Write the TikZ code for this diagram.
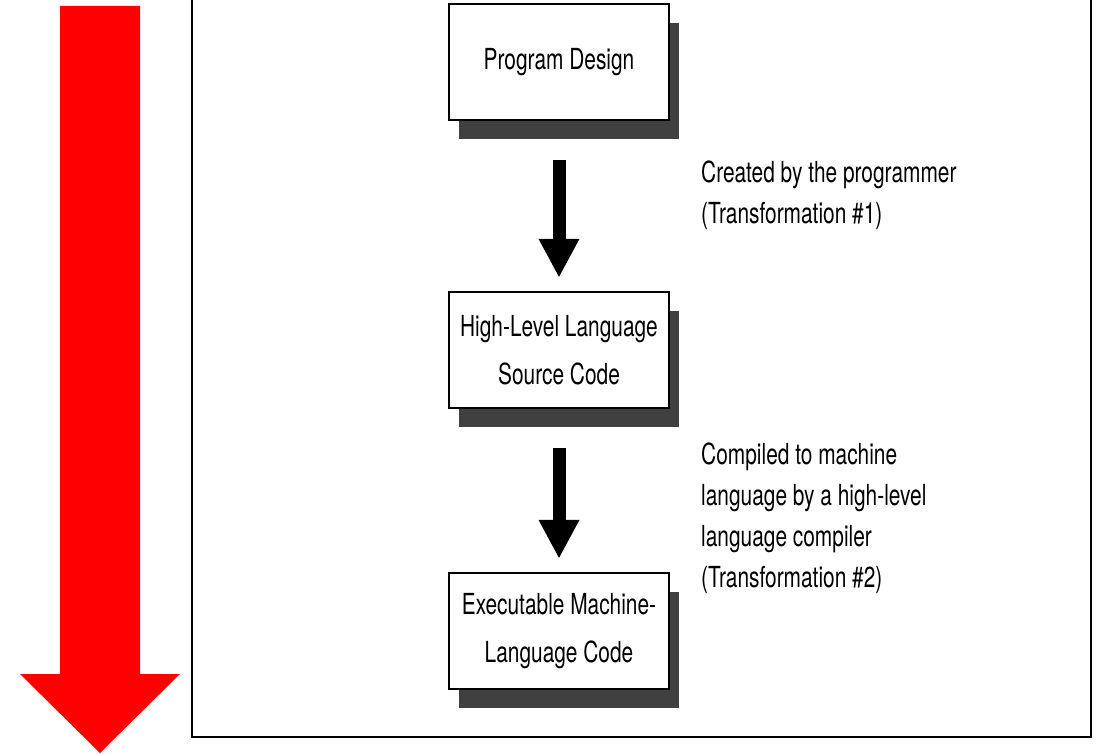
\documentclass[tikz,border=0pt]{standalone}
\usepackage{fontspec}
\setmainfont[FakeStretch=0.72]{TeX Gyre Heros}
\usetikzlibrary{arrows.meta,shadows}
\tikzset{
  stage/.style={draw, line width=2.5pt, fill=white, minimum width=220pt, minimum height=116pt,
    align=center, inner sep=0pt, font=\fontsize{29}{48}\selectfont,
    drop shadow={shadow xshift=10pt, shadow yshift=-19pt, fill=black!75, opacity=1}},
  note/.style={anchor=north west, align=left, inner sep=0pt, font=\fontsize{29}{41}\selectfont},
  flow/.style={line width=13pt, -{Triangle[width=38pt,length=39pt]}, shorten <=39pt, shorten >=13pt}
}
\begin{document}
\begin{tikzpicture}[x=1pt,y=-1pt]
    \useasboundingbox (0,0) rectangle (1099,754);
    % big red arrow
    \fill[red] (60,6) -- (140,6) -- (140,674) -- (180,674) -- (100,753) -- (20,674) -- (60,674) -- cycle;
    % frame
    \draw[line width=2pt] (192,-5) |- (1091,737) -- (1091,-5);
    \node[stage] (design) at (559,62) {Program Design};
    \node[stage] (source) at (559,350) {High-Level Language\\Source Code};
    \node[stage] (exe) at (559,631) {Executable Machine-\\Language Code};
    \node[note] (t1) at (701,161) {Created by the programmer\\(Transformation \#1)};
    \node[note] (t2) at (701,443) {Compiled to machine\\language by a high-level\\language compiler\\(Transformation \#2)};
    \draw[flow] (design) -- (source);
    \draw[flow] (source) -- (exe);
\end{tikzpicture}
\end{document}
